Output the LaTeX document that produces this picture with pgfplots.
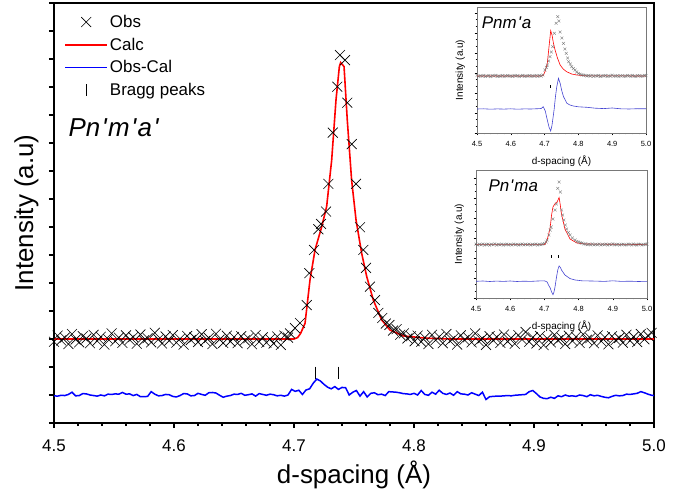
\documentclass[border=0pt]{standalone}
\usepackage{pgfplots}
\pgfplotsset{compat=1.18}
\usepackage{fontspec}
\setmainfont{Liberation Sans}
\definecolor{insblue}{RGB}{70,70,210}
\definecolor{insgray}{RGB}{120,120,120}
\definecolor{resblue}{RGB}{0,0,255}
\begin{document}
\begin{tikzpicture}
\path[use as bounding box] (-54bp,-73bp) rectangle (631bp,423bp);
\begin{axis}[
  at={(0,0)}, anchor=south west,
  scale only axis, width=600bp, height=420bp,
  xmin=4.5, xmax=5.0, ymin=0, ymax=15,
  axis line style={line width=1.4bp},
  xtick={4.5,4.6,...,5.0}, minor x tick num=4,
  ytick={0,1,...,15}, yticklabels={},
  xtick pos=left, ytick pos=left, tick align=outside,
  major tick length=5bp, minor tick length=3bp,
  every tick/.style={line width=1.1bp, black},
  tick label style={font=\fontsize{17}{20}\selectfont},
  /pgf/number format/assume math mode=true,
  xticklabel={\pgfmathprintnumber[fixed,precision=1,zerofill]{\tick}},
  xticklabel style={yshift=-8.5bp},
  xlabel={d-spacing (Å)}, ylabel={Intensity (a.u)},
  every axis x label/.style={at={(axis description cs:0.5,0)}, anchor=north, inner sep=0pt, yshift=-38bp, font=\fontsize{26}{30}\selectfont},
  every axis y label/.style={at={(axis description cs:-0.02,0.5)}, rotate=90, anchor=south, font=\fontsize{26}{30}\selectfont},
  legend style={at={(0.012,0.981)}, anchor=north west, draw=none, fill=none,
    font=\fontsize{17}{20}\selectfont, row sep=5bp},
  legend cell align=left,
  legend image code/.code={\draw[mark repeat=2,mark phase=2,#1] plot coordinates {(0bp,0bp) (21bp,0bp) (42bp,0bp)};},
]
\addplot[only marks, mark=x, mark size=7bp, black, line width=0.6bp] table {
4.500 2.90
4.503 3.12
4.506 2.95
4.509 3.05
4.512 2.82
4.515 3.18
4.518 2.98
4.521 2.88
4.524 3.10
4.527 3.02
4.530 2.85
4.533 3.15
4.536 2.93
4.539 3.08
4.542 2.80
4.545 3.00
4.548 3.20
4.551 2.92
4.554 3.05
4.557 2.86
4.560 3.13
4.563 2.97
4.566 3.07
4.569 2.83
4.572 3.16
4.575 2.95
4.578 3.03
4.581 2.88
4.584 3.22
4.587 2.99
4.590 2.84
4.593 3.09
4.596 2.94
4.599 3.14
4.602 2.87
4.605 3.01
4.608 2.80
4.611 3.11
4.614 2.96
4.617 3.06
4.620 2.89
4.623 3.17
4.626 2.93
4.629 3.04
4.632 2.82
4.635 3.19
4.638 2.98
4.641 2.86
4.644 3.12
4.647 2.91
4.650 3.07
4.653 2.85
4.656 3.10
4.659 2.95
4.662 3.03
4.665 2.81
4.668 3.14
4.671 2.90
4.674 3.06
4.677 2.87
4.680 3.00
4.683 2.84
4.686 3.09
4.689 2.79
4.692 3.12
4.695 3.05
4.6967 3.20
4.7008 3.39
4.7050 3.57
4.7106 4.21
4.7128 5.35
4.7167 6.18
4.7203 6.92
4.7225 7.11
4.7267 7.55
4.7286 8.54
4.7323 10.37
4.7361 12.01
4.7383 13.14
4.7425 12.96
4.7444 11.44
4.7481 9.96
4.7517 8.54
4.7550 6.99
4.7578 6.18
4.7600 5.54
4.7633 4.87
4.7675 4.39
4.7703 3.93
4.7735 3.75
4.7765 3.55
4.7795 3.50
4.7825 3.30
4.7855 3.35
4.7885 3.15
4.7915 3.20
4.7945 3.02
4.7975 3.10
4.8005 2.92
4.803 3.12
4.806 2.90
4.809 3.05
4.812 2.82
4.815 3.15
4.818 2.96
4.821 3.08
4.824 2.85
4.827 3.18
4.830 2.93
4.833 3.03
4.836 2.80
4.839 3.13
4.842 2.97
4.845 3.06
4.848 2.88
4.851 3.20
4.854 2.92
4.857 3.02
4.860 2.79
4.863 3.10
4.866 2.95
4.869 3.07
4.872 2.86
4.875 3.16
4.878 2.91
4.881 3.04
4.884 2.83
4.887 3.14
4.890 2.98
4.893 3.25
4.896 2.90
4.899 3.06
4.902 2.84
4.905 3.11
4.908 2.78
4.911 3.02
4.914 2.88
4.917 3.15
4.920 2.95
4.923 3.05
4.926 2.82
4.929 3.12
4.932 2.93
4.935 3.08
4.938 2.86
4.941 3.17
4.944 2.97
4.947 3.03
4.950 2.85
4.953 3.13
4.956 2.92
4.959 3.06
4.962 2.81
4.965 3.10
4.968 2.96
4.971 3.04
4.974 2.87
4.977 3.15
4.980 2.94
4.983 3.08
4.986 2.89
4.989 3.18
4.992 2.99
4.995 3.12
4.998 3.22
};
\addlegendentry{Obs}
\addplot[red, line width=1.6bp] table {
4.500 3.00
4.700 3.00
4.703 3.05
4.7055 3.20
4.7092 3.56
4.7133 5.10
4.7175 6.18
4.7231 7.01
4.7272 7.73
4.7314 9.39
4.7350 11.54
4.7378 12.73
4.7389 12.87
4.7417 12.73
4.7444 10.82
4.7480 8.68
4.7517 7.25
4.7564 6.06
4.7606 5.23
4.7661 4.39
4.7731 3.68
4.7800 3.32
4.7911 3.11
4.8100 3.03
4.8300 3.00
5.000 3.00
};
\addlegendentry{Calc}
\addlegendimage{draw=resblue, line width=1.6bp}
\addlegendentry{Obs-Cal}
\addplot[draw=resblue, line width=1.5bp, forget plot] table {
4.500 0.97
4.503 0.96
4.506 0.99
4.509 0.98
4.512 1.02
4.515 1.10
4.518 0.97
4.521 0.98
4.524 1.05
4.527 1.04
4.530 1.00
4.533 0.98
4.536 0.96
4.539 1.00
4.542 0.97
4.545 1.03
4.548 1.02
4.551 1.04
4.554 1.03
4.557 1.09
4.560 1.03
4.563 1.04
4.566 0.98
4.569 1.02
4.572 0.94
4.575 0.94
4.578 0.95
4.581 1.12
4.584 1.03
4.587 0.97
4.590 0.98
4.593 1.02
4.596 1.01
4.599 0.95
4.602 0.93
4.605 0.98
4.608 1.05
4.611 1.04
4.614 0.97
4.617 0.98
4.620 1.06
4.623 1.02
4.626 0.99
4.629 1.08
4.632 1.09
4.635 1.07
4.638 0.99
4.641 0.92
4.644 0.96
4.647 0.98
4.650 1.03
4.653 1.02
4.656 1.06
4.659 0.99
4.662 1.01
4.665 1.04
4.668 0.96
4.671 1.05
4.674 1.02
4.677 0.99
4.680 1.03
4.683 1.01
4.686 0.97
4.689 0.99
4.692 0.96
4.695 1.00
4.698 1.20
4.701 1.13
4.704 1.17
4.707 1.02
4.710 1.18
4.713 1.22
4.716 1.42
4.719 1.57
4.722 1.50
4.725 1.38
4.728 1.28
4.731 1.22
4.734 1.30
4.737 1.20
4.740 1.27
4.743 1.26
4.746 1.00
4.749 1.10
4.752 1.16
4.755 0.96
4.758 1.12
4.761 0.93
4.764 1.06
4.767 1.08
4.770 1.01
4.773 1.03
4.776 0.98
4.779 1.12
4.782 1.11
4.785 1.10
4.788 1.08
4.791 1.05
4.794 1.04
4.797 1.02
4.800 1.06
4.803 1.00
4.806 1.16
4.809 1.02
4.812 0.99
4.815 1.10
4.818 1.03
4.821 1.17
4.824 1.06
4.827 1.02
4.830 1.07
4.833 0.99
4.836 1.12
4.839 1.04
4.842 1.03
4.845 1.00
4.848 1.08
4.851 1.03
4.854 0.98
4.857 1.10
4.860 0.84
4.863 0.94
4.866 0.95
4.869 0.96
4.872 0.96
4.875 0.97
4.878 0.98
4.881 0.97
4.884 0.99
4.887 1.00
4.890 1.01
4.893 1.02
4.896 1.12
4.899 1.16
4.902 1.05
4.905 0.93
4.908 0.88
4.911 0.87
4.914 0.92
4.917 0.88
4.920 0.97
4.923 0.94
4.926 1.00
4.929 0.96
4.932 0.97
4.935 0.95
4.938 1.00
4.941 0.98
4.944 0.94
4.947 1.01
4.950 0.97
4.953 0.99
4.956 0.95
4.959 0.92
4.962 0.90
4.965 0.95
4.968 0.99
4.971 0.97
4.974 0.98
4.977 1.03
4.980 1.02
4.983 1.04
4.986 1.06
4.989 1.12
4.992 1.08
4.995 1.03
4.998 0.99
5.000 0.98
};
\addplot[only marks, mark=|, mark size=6bp, black, line width=0.9bp] table {
4.718 1.80
4.737 1.80
};
\addlegendentry{Bragg peaks}
\node[anchor=base west, inner sep=0pt, font=\fontsize{26}{30}\selectfont\itshape] at (rel axis cs:0.024,0.681) {Pn\kern1.5bp\textquotesingle\kern1.5bp m\kern1.5bp\textquotesingle\kern1.5bp a\kern1.5bp\textquotesingle};
\end{axis}

% ---- inset 1 : Pnm'a
\begin{axis}[
  at={(423bp,290bp)}, anchor=south west,
  scale only axis, width=169bp, height=126bp,
  axis background/.style={fill=white},
  xmin=4.5, xmax=5.0, ymin=0, ymax=12.6,
  axis line style={insgray, line width=0.6bp},
  xtick={4.5,4.6,...,5.0}, minor x tick num=4,
  ytick={0,2,...,12}, minor y tick num=2, yticklabels={},
  xtick pos=left, ytick pos=left, tick align=outside,
  major tick length=2.5bp, minor tick length=1.5bp,
  every tick/.style={line width=0.5bp, black},
  tick label style={font=\fontsize{7.5}{9}\selectfont},
  /pgf/number format/assume math mode=true,
  xticklabel={\pgfmathprintnumber[fixed,precision=1,zerofill]{\tick}},
  xticklabel style={yshift=-2bp},
  xlabel={d-spacing (Å)}, ylabel={Intensity (a.u)},
  every axis x label/.style={at={(axis description cs:0.5,0)}, anchor=north, yshift=-19bp, font=\fontsize{10}{12}\selectfont},
  every axis y label/.style={at={(axis description cs:-0.05,0.5)}, rotate=90, anchor=south, font=\fontsize{10}{12}\selectfont},
]
\addplot[only marks, mark=x, mark size=2bp, insgray, line width=0.35bp] table {
4.500 5.75
4.505 5.66
4.510 5.72
4.515 5.68
4.520 5.76
4.525 5.66
4.530 5.71
4.535 5.74
4.540 5.64
4.545 5.73
4.550 5.69
4.555 5.77
4.560 5.66
4.565 5.72
4.570 5.68
4.575 5.75
4.580 5.65
4.585 5.71
4.590 5.74
4.595 5.68
4.600 5.72
4.605 5.66
4.610 5.75
4.615 5.69
4.620 5.73
4.625 5.65
4.630 5.71
4.635 5.76
4.640 5.67
4.645 5.72
4.650 5.69
4.655 5.74
4.660 5.66
4.665 5.72
4.670 5.70
4.675 5.75
4.680 5.66
4.685 5.73
4.690 5.70
4.695 5.80
4.701 6.30
4.705 6.55
4.708 6.80
4.712 7.20
4.716 7.63
4.720 8.10
4.724 8.63
4.729 9.97
4.734 10.97
4.739 11.63
4.742 11.20
4.746 10.10
4.751 9.50
4.756 8.97
4.760 8.40
4.764 7.97
4.768 7.50
4.771 7.13
4.776 6.90
4.780 6.63
4.785 6.45
4.790 6.30
4.795 6.10
4.800 5.95
4.805 5.88
4.810 5.82
4.815 5.78
4.820 5.76
4.825 5.70
4.830 5.74
4.835 5.68
4.840 5.76
4.845 5.67
4.850 5.73
4.855 5.69
4.860 5.75
4.865 5.66
4.870 5.72
4.875 5.70
4.880 5.75
4.885 5.66
4.890 5.73
4.895 5.69
4.900 5.78
4.905 5.68
4.910 5.70
4.915 5.74
4.920 5.65
4.925 5.72
4.930 5.74
4.935 5.67
4.940 5.68
4.945 5.75
4.950 5.72
4.955 5.66
4.960 5.76
4.965 5.69
4.970 5.66
4.975 5.74
4.980 5.73
4.985 5.67
4.990 5.69
4.995 5.75
5.000 5.74
};
\addplot[red, line width=0.6bp] table {
4.500 5.70
4.690 5.70
4.696 5.75
4.702 6.20
4.708 6.97
4.713 8.60
4.718 10.23
4.722 9.80
4.726 9.00
4.731 8.30
4.738 7.50
4.746 6.80
4.755 6.40
4.765 6.13
4.780 5.90
4.795 5.80
4.820 5.72
5.000 5.70
};
\addplot[insblue, line width=0.6bp] table {
4.500 2.40
4.520 2.42
4.540 2.38
4.560 2.41
4.580 2.39
4.600 2.42
4.620 2.38
4.640 2.41
4.660 2.40
4.680 2.43
4.690 2.45
4.696 2.63
4.702 2.20
4.708 1.30
4.713 0.60
4.718 0.20
4.722 0.80
4.728 2.30
4.732 3.60
4.736 4.63
4.741 5.47
4.746 4.97
4.751 4.20
4.756 3.63
4.766 2.97
4.775 2.80
4.785 2.70
4.800 2.62
4.825 2.57
4.850 2.48
4.875 2.44
4.900 2.50
4.925 2.42
4.950 2.40
4.975 2.43
5.000 2.42
};
\addplot[only marks, mark=|, mark size=1.5bp, black, line width=0.4bp] table {
4.716 4.60
};
\node[anchor=base west, inner sep=0pt, font=\fontsize{17}{20}\selectfont\itshape] at (rel axis cs:0.028,0.833) {Pnm\kern1bp\textquotesingle\kern1bp a};
\end{axis}

% ---- inset 2 : Pn'ma
\begin{axis}[
  at={(422bp,125bp)}, anchor=south west,
  scale only axis, width=171bp, height=128bp,
  axis background/.style={fill=white},
  xmin=4.5, xmax=5.0, ymin=0, ymax=12.8,
  axis line style={insgray, line width=0.6bp},
  xtick={4.5,4.6,...,5.0}, minor x tick num=4,
  ytick={0,2,...,12}, minor y tick num=2, yticklabels={},
  xtick pos=left, ytick pos=left, tick align=outside,
  major tick length=2.5bp, minor tick length=1.5bp,
  every tick/.style={line width=0.5bp, black},
  tick label style={font=\fontsize{7.5}{9}\selectfont},
  /pgf/number format/assume math mode=true,
  xticklabel={\pgfmathprintnumber[fixed,precision=1,zerofill]{\tick}},
  xticklabel style={yshift=-2bp},
  xlabel={d-spacing (Å)}, ylabel={Intensity (a.u)},
  every axis x label/.style={at={(axis description cs:0.5,0)}, anchor=north, yshift=-19bp, font=\fontsize{10}{12}\selectfont},
  every axis y label/.style={at={(axis description cs:-0.05,0.5)}, rotate=90, anchor=south, font=\fontsize{10}{12}\selectfont},
]
\addplot[only marks, mark=x, mark size=2bp, insgray, line width=0.35bp] table {
4.500 5.38
4.505 5.30
4.510 5.36
4.515 5.32
4.520 5.40
4.525 5.30
4.530 5.35
4.535 5.38
4.540 5.28
4.545 5.37
4.550 5.33
4.555 5.41
4.560 5.30
4.565 5.36
4.570 5.32
4.575 5.39
4.580 5.29
4.585 5.35
4.590 5.38
4.595 5.32
4.600 5.36
4.605 5.30
4.610 5.39
4.615 5.33
4.620 5.37
4.625 5.29
4.630 5.35
4.635 5.40
4.640 5.31
4.645 5.36
4.650 5.33
4.655 5.38
4.660 5.30
4.665 5.36
4.670 5.34
4.675 5.39
4.680 5.30
4.685 5.37
4.690 5.34
4.695 5.40
4.700 5.45
4.705 5.60
4.708 5.80
4.713 6.30
4.717 6.80
4.720 7.10
4.725 7.90
4.731 8.80
4.735 9.40
4.739 10.96
4.743 11.60
4.747 10.60
4.750 8.80
4.753 8.30
4.757 7.80
4.761 7.30
4.765 6.90
4.770 6.55
4.775 6.30
4.782 6.00
4.790 5.80
4.795 5.65
4.800 5.60
4.805 5.52
4.810 5.48
4.815 5.42
4.820 5.40
4.825 5.34
4.830 5.38
4.835 5.32
4.840 5.40
4.845 5.31
4.850 5.37
4.855 5.33
4.860 5.39
4.865 5.30
4.870 5.36
4.875 5.34
4.880 5.39
4.885 5.30
4.890 5.37
4.895 5.33
4.900 5.42
4.905 5.32
4.910 5.34
4.915 5.38
4.920 5.29
4.925 5.36
4.930 5.38
4.935 5.31
4.940 5.32
4.945 5.39
4.950 5.36
4.955 5.30
4.960 5.40
4.965 5.33
4.970 5.30
4.975 5.38
4.980 5.37
4.985 5.31
4.990 5.33
4.995 5.39
5.000 5.38
};
\addplot[red, line width=0.6bp] table {
4.500 5.34
4.700 5.34
4.706 5.60
4.712 6.30
4.717 7.10
4.721 8.30
4.725 9.10
4.731 9.43
4.737 9.60
4.743 10.04
4.746 9.40
4.750 8.40
4.760 6.90
4.775 5.90
4.795 5.50
4.820 5.40
5.000 5.34
};
\addplot[insblue, line width=0.6bp] table {
4.500 1.67
4.520 1.70
4.540 1.65
4.560 1.69
4.580 1.66
4.600 1.70
4.620 1.65
4.640 1.68
4.660 1.66
4.680 1.70
4.700 1.72
4.708 1.60
4.712 1.30
4.717 1.00
4.721 0.60
4.725 0.33
4.728 0.60
4.731 1.10
4.735 2.00
4.739 2.80
4.743 3.20
4.747 3.05
4.750 2.80
4.760 2.30
4.775 1.94
4.790 1.80
4.810 1.72
4.850 1.69
4.875 1.66
4.900 1.72
4.925 1.66
4.950 1.68
4.975 1.65
5.000 1.67
};
\addplot[only marks, mark=|, mark size=1.5bp, black, line width=0.4bp] table {
4.719 4.10
4.739 4.10
};
\node[anchor=base west, inner sep=0pt, font=\fontsize{17}{20}\selectfont\itshape] at (rel axis cs:0.072,0.83) {Pn\kern1bp\textquotesingle\kern1bp ma};
\end{axis}
\end{tikzpicture}
\end{document}
